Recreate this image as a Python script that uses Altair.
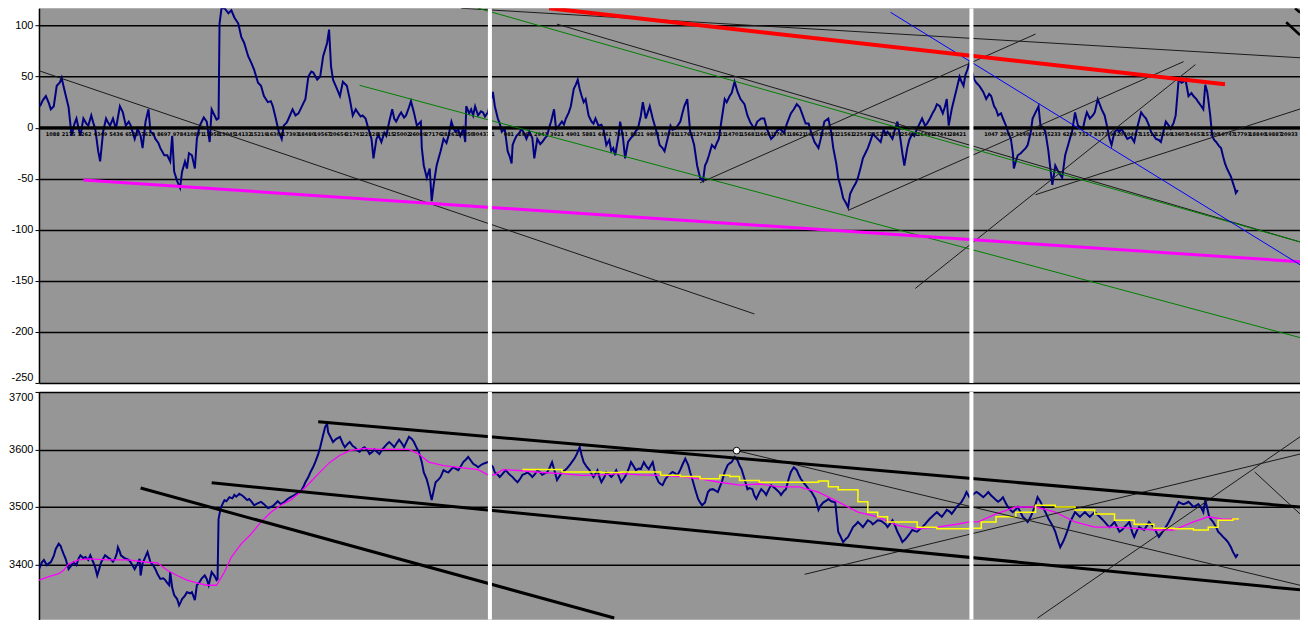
import altair as alt
import pandas as pd
import numpy as np

# ---------------- data ----------------
# x is the bar index (screen-time axis, 30 .. 1308), y is the value
TOP_SERIES = [
    (31,21),(34,27),(37,31),(40,24),(42,18),(45,21),(48,41),(51,44),(53,49),(55,40),(58,28),(60,20),(62,2),(63,-8),(66,4),(68,9),(70,0),(72,-8),(75,9),(78,4),(80,2),(83,12),(85,5),(87,-1),(90,-23),(92,-33),(95,-4),(98,9),(100,5),(102,2),(105,9),(108,-1),(110,10),(112,21),(115,15),(118,2),(121,6),(123,2),(127,-11),(130,-1),(133,-8),(135,-20),(138,6),(141,18),(143,-4),(146,-6),(148,-11),(151,-15),(153,-20),(157,-27),(160,-27),(163,-33),(165,-8),(167,-43),(170,-52),(173,-59),(175,-43),(178,-33),(180,-40),(182,-25),(185,-27),(188,-40),(190,-11),(193,2),(197,10),(200,6),(203,-14),(205,18),(208,12),(210,8),(212,9),(213,102),(215,122),(218,118),(222,112),(225,115),(228,108),(232,102),(235,89),(238,83),(242,70),(245,64),(248,57),(252,44),(255,41),(258,31),(262,25),(265,26),(267,21),(270,9),(273,-4),(276,-11),(278,2),(281,5),(283,9),(287,18),(290,12),(293,14),(295,18),(298,24),(300,28),(303,50),(306,55),(308,54),(312,47),(315,50),(318,70),(322,83),(324,96),(326,60),(328,47),(332,38),(335,31),(338,45),(342,41),(345,28),(348,12),(351,18),(353,15),(356,11),(358,12),(361,9),(363,2),(367,-11),(369,-30),(372,-11),(374,-7),(377,-14),(380,-5),(382,-8),(385,6),(388,18),(390,9),(392,6),(395,12),(397,15),(400,10),(402,12),(405,20),(407,26),(410,15),(413,2),(417,6),(418,-20),(420,-37),(423,-49),(426,-40),(428,-72),(430,-56),(433,-37),(435,-30),(437,-23),(440,-11),(443,-15),(445,-8),(448,6),(450,0),(452,-4),(455,-2),(457,-8),(460,-1),(462,-14),(463,21),(466,14),(468,18),(470,12),(472,21),(475,12),(478,16),(480,15),(482,11),(485,15),
    (490,35),(492,21),(495,9),(497,4),(499,-4),(502,-1),(505,-23),(507,-28),(509,-35),(510,-17),(512,-12),(514,-8),(517,-5),(519,-1),(522,-6),(524,-11),(527,-4),(530,-10),(532,-30),(535,-11),(538,-16),(540,-14),(543,-10),(545,-8),(547,0),(549,6),(552,18),(554,-1),(557,2),(560,6),(562,3),(564,9),(567,15),(569,21),(572,38),(574,42),(576,47),(578,38),(580,31),(582,25),(584,28),(587,12),(590,6),(592,4),(594,9),(597,2),(600,3),(602,-1),(605,-17),(608,-12),(610,-23),(612,-20),(614,-27),(617,-10),(619,6),(622,-11),(624,-30),(627,-14),(630,-10),(632,-8),(635,-3),(637,-1),(640,12),(642,25),(645,9),(647,15),(649,21),(652,9),(655,-1),(657,-8),(659,-17),(662,-20),(664,-23),(667,-11),(670,2),(672,-2),(675,-1),(678,3),(680,6),(682,14),(684,21),(687,28),(690,-4),(692,-10),(694,-17),(697,-37),(700,-49),(703,-52),(705,-37),(707,-33),(709,-27),(712,-17),(715,-20),(717,-15),(719,-11),(722,9),(725,28),(727,25),(730,31),(732,34),(735,45),(738,35),(741,28),(745,23),(748,12),(751,5),(755,-1),(758,6),(762,9),(765,9),(768,-2),(772,-11),(775,-8),(778,-3),(781,-1),(785,-5),(788,4),(792,14),(795,18),(798,23),(801,20),(804,12),(807,4),(810,4),(813,-6),(816,-14),(820,-20),(823,-8),(826,6),(830,9),(833,-5),(835,-20),(838,-35),(840,-49),(843,-60),(845,-69),(848,-74),(850,-78),(852,-65),(855,-59),(858,-54),(860,-49),(863,-38),(865,-30),(868,-24),(870,-20),(873,-12),(875,-6),(878,-9),(880,-11),(883,-14),(886,-2),(888,-6),(890,-4),(893,-8),(895,-11),(898,0),(900,6),(903,-11),(905,-25),(907,-37),(910,-20),(912,-12),(915,-6),(917,-8),(920,-1),(922,3),(925,9),(928,2),(930,4),(933,9),(936,15),(938,18),(940,23),(943,21),(946,14),(948,20),(950,28),(952,2),(955,18),(958,30),(960,38),(963,50),(965,45),(967,41),(969,52),(971,57),(973,64),
    (978,47),(980,44),(983,41),(985,38),(987,35),(990,28),(993,33),(995,31),(998,21),(1000,18),(1002,12),(1005,14),(1007,9),(1010,2),(1012,-4),(1015,-11),(1017,-25),(1018,-40),(1020,-33),(1022,-27),(1025,-25),(1027,-23),(1030,-20),(1032,-17),(1035,-5),(1037,9),(1040,15),(1043,21),(1045,2),(1048,0),(1050,-4),(1053,-23),(1055,-40),(1057,-56),(1060,-37),(1063,-43),(1065,-46),(1067,-49),(1070,-27),(1073,-17),(1075,-10),(1077,-4),(1080,15),(1083,2),(1086,0),(1088,-1),(1090,8),(1092,15),(1095,9),(1098,12),(1100,15),(1103,28),(1107,18),(1110,12),(1113,-1),(1115,-11),(1117,-17),(1120,-4),(1123,-2),(1125,-4),(1127,-1),(1130,-6),(1133,-11),(1137,-9),(1140,-14),(1143,0),(1147,15),(1150,11),(1152,9),(1155,2),(1157,-4),(1160,-8),(1162,-11),(1165,-12),(1167,-14),(1170,-2),(1172,6),(1175,2),(1177,-1),(1180,5),(1182,12),(1184,35),(1185,47),(1188,44),(1190,45),(1192,47),(1195,31),(1198,34),(1200,31),(1203,28),(1205,25),(1208,21),(1210,18),(1212,42),(1214,35),(1215,28),(1217,12),(1219,-8),(1221,-12),(1223,-14),(1226,-18),(1228,-20),(1230,-28),(1232,-35),(1234,-40),(1236,-44),(1238,-48),(1240,-54),(1242,-60),(1243,-64),(1245,-61),
]

BOTTOM_SERIES = [
    (30,3392),(33,3404),(35,3408),(38,3399),(40,3402),(42,3404),(45,3415),(47,3427),(50,3436),(52,3432),(53,3427),(55,3418),(57,3410),(60,3392),(63,3399),(65,3404),(68,3399),(70,3410),(72,3416),(75,3411),(77,3413),(80,3408),(82,3416),(85,3404),(87,3395),(89,3381),(91,3392),(93,3404),(95,3410),(97,3416),(100,3412),(102,3410),(105,3405),(107,3410),(109,3420),(110,3430),(112,3422),(113,3416),(116,3412),(118,3410),(121,3408),(123,3404),(125,3398),(127,3392),(130,3402),(132,3410),(133,3381),(135,3402),(137,3410),(140,3422),(143,3404),(146,3398),(148,3392),(150,3384),(153,3375),(156,3376),(158,3373),(160,3368),(162,3364),(163,3387),(165,3360),(167,3347),(170,3340),(172,3329),(174,3336),(175,3340),(178,3346),(180,3352),(183,3350),(185,3352),(188,3338),(190,3364),(193,3370),(195,3376),(198,3381),(200,3375),(202,3364),(205,3387),(208,3380),(210,3373),(211,3375),(212,3479),(214,3497),(216,3505),(218,3512),(220,3510),(223,3517),(226,3515),(228,3521),(230,3518),(233,3523),(236,3520),(238,3517),(241,3512),(243,3514),(246,3508),(248,3503),(251,3506),(255,3509),(258,3505),(262,3498),(265,3500),(268,3503),(272,3510),(275,3505),(278,3508),(282,3514),(285,3517),(288,3520),(292,3524),(295,3526),(298,3535),(300,3543),(303,3552),(305,3560),(308,3570),(310,3578),(313,3592),(315,3604),(318,3625),(320,3639),(322,3645),(323,3630),(326,3620),(328,3613),(331,3618),(335,3622),(338,3610),(340,3604),(343,3610),(345,3613),(348,3606),(350,3604),(353,3598),(355,3596),(358,3602),(360,3604),(363,3598),(365,3592),(368,3596),(370,3600),(373,3595),(375,3592),(378,3600),(380,3604),(383,3610),(385,3613),(388,3608),(390,3604),(393,3612),(395,3617),(398,3610),(400,3604),(403,3615),(405,3622),(408,3618),(410,3613),(413,3602),(415,3596),(418,3578),(420,3560),(423,3548),(425,3535),(428,3512),(430,3528),(432,3543),(435,3548),(437,3552),(440,3564),(443,3561),(445,3560),(448,3566),(450,3569),(453,3566),(455,3564),(458,3572),(460,3578),(463,3583),(465,3587),(468,3580),(470,3575),(473,3572),(475,3569),(478,3573),(480,3575),(483,3577),(485,3578),
    (490,3570),(492,3560),(495,3556),(497,3552),(500,3558),(503,3564),(506,3558),(510,3552),(512,3548),(515,3543),(518,3550),(520,3556),(523,3558),(525,3560),(528,3556),(530,3552),(533,3558),(535,3564),(538,3560),(540,3556),(543,3559),(545,3560),(548,3570),(550,3578),(553,3560),(555,3547),(558,3555),(560,3560),(563,3564),(565,3567),(568,3573),(570,3578),(573,3585),(575,3592),(578,3604),(580,3590),(582,3578),(585,3570),(588,3564),(590,3558),(592,3552),(594,3558),(596,3564),(598,3552),(600,3543),(603,3552),(605,3560),(608,3556),(610,3552),(613,3558),(615,3564),(618,3552),(620,3543),(623,3550),(625,3556),(628,3568),(630,3578),(633,3570),(635,3564),(638,3567),(640,3566),(643,3578),(645,3572),(648,3566),(650,3572),(652,3578),(655,3555),(658,3543),(660,3540),(662,3538),(665,3549),(668,3555),(670,3558),(672,3561),(675,3558),(677,3555),(680,3565),(682,3573),(685,3584),(688,3573),(690,3560),(692,3549),(695,3531),(698,3514),(700,3508),(702,3503),(705,3508),(708,3526),(710,3530),(713,3531),(716,3528),(718,3526),(720,3535),(722,3543),(725,3561),(728,3573),(730,3576),(732,3578),(735,3587),(738,3581),(740,3572),(742,3566),(745,3549),(748,3531),(750,3533),(753,3531),(755,3520),(757,3514),(760,3525),(762,3531),(765,3526),(767,3521),(770,3532),(772,3538),(775,3534),(777,3531),(780,3526),(782,3521),(785,3528),(787,3531),(790,3550),(792,3561),(795,3569),(798,3564),(800,3556),(802,3549),(805,3542),(807,3538),(810,3531),(813,3526),(815,3520),(817,3514),(820,3495),(822,3502),(825,3508),(828,3511),(830,3514),(833,3510),(837,3508),(840,3457),(842,3450),(845,3439),(848,3445),(850,3448),(853,3458),(855,3465),(858,3470),(860,3474),(863,3469),(865,3465),(868,3472),(870,3477),(873,3474),(875,3470),(878,3474),(880,3477),(883,3476),(885,3474),(888,3470),(890,3465),(893,3472),(895,3477),(898,3466),(900,3457),(903,3447),(905,3439),(908,3444),(910,3448),(913,3455),(915,3460),(918,3458),(920,3457),(923,3462),(925,3465),(928,3470),(930,3474),(933,3480),(935,3483),(938,3488),(940,3491),(943,3486),(945,3483),(948,3490),(950,3495),(953,3492),(955,3488),(958,3495),(960,3500),(963,3505),(965,3509),(968,3518),(970,3526),(972,3520),(973,3517),
    (980,3526),(982,3524),(985,3520),(987,3517),(990,3522),(992,3526),(995,3520),(997,3517),(1000,3512),(1002,3509),(1005,3513),(1007,3517),(1010,3506),(1012,3500),(1015,3494),(1017,3491),(1020,3496),(1022,3500),(1025,3490),(1027,3483),(1030,3478),(1032,3474),(1035,3483),(1037,3491),(1040,3505),(1042,3517),(1045,3509),(1048,3498),(1050,3491),(1053,3480),(1055,3474),(1058,3465),(1060,3457),(1063,3440),(1065,3430),(1068,3440),(1070,3448),(1073,3462),(1075,3474),(1078,3484),(1080,3491),(1083,3486),(1085,3483),(1088,3488),(1090,3491),(1093,3486),(1095,3483),(1098,3488),(1100,3491),(1103,3486),(1105,3483),(1108,3478),(1110,3474),(1113,3468),(1115,3465),(1118,3470),(1120,3474),(1123,3464),(1125,3457),(1128,3461),(1130,3465),(1133,3470),(1135,3474),(1138,3456),(1140,3448),(1143,3460),(1145,3465),(1148,3462),(1150,3460),(1153,3468),(1155,3474),(1158,3468),(1160,3465),(1163,3454),(1165,3448),(1168,3455),(1170,3460),(1173,3468),(1175,3474),(1178,3484),(1180,3491),(1183,3502),(1185,3509),(1188,3506),(1190,3505),(1193,3507),(1195,3509),(1198,3504),(1200,3500),(1203,3503),(1205,3505),(1208,3498),(1210,3491),(1212,3512),(1214,3498),(1216,3483),(1218,3478),(1220,3474),(1223,3465),(1225,3457),(1228,3452),(1230,3448),(1233,3443),(1235,3439),(1238,3430),(1240,3422),(1242,3416),(1243,3413),(1245,3418),
]

BOTTOM_MA_MAGENTA = [
    (30,3373),(40,3379),(50,3384),(55,3390),(60,3401),(70,3408),(80,3410),(100,3408),(120,3408),(140,3404),(150,3403),(160,3390),(170,3381),(180,3373),(190,3368),(200,3364),(210,3364),(218,3387),(225,3413),(235,3436),(245,3453),(255,3474),(265,3491),(275,3503),(285,3512),(295,3526),(305,3543),(315,3561),(325,3578),(335,3590),(345,3598),(360,3602),(375,3600),(390,3600),(405,3600),(415,3592),(425,3578),(440,3572),(460,3568),(475,3565),(485,3556),
    (492,3556),(500,3565),(520,3563),(540,3560),(560,3558),(580,3555),(600,3556),(620,3558),(640,3556),(660,3555),(680,3553),(700,3549),(720,3543),(740,3538),(760,3540),(780,3535),(800,3535),(820,3526),(840,3509),(860,3491),(880,3483),(900,3468),(920,3462),(940,3465),(960,3470),(973,3474),
    (982,3474),(1000,3488),(1020,3500),(1040,3500),(1060,3491),(1080,3474),(1100,3465),(1120,3465),(1140,3463),(1160,3460),(1180,3460),(1200,3474),(1215,3483),(1230,3479),(1245,3479),
]

BOTTOM_MA_YELLOW = [
    (520,3565),(540,3565),(560,3561),(580,3561),(600,3560),(620,3561),(640,3561),(660,3555),(680,3553),(700,3549),(720,3555),(730,3553),(740,3546),(760,3543),(780,3543),(800,3543),(820,3545),(830,3535),(840,3530),(860,3509),(870,3491),(880,3483),(890,3474),(900,3474),(920,3465),(940,3462),(960,3462),(973,3463),
    (985,3474),(1000,3483),(1020,3491),(1040,3503),(1060,3500),(1080,3495),(1100,3488),(1120,3477),(1140,3470),(1160,3463),(1180,3462),(1200,3460),(1215,3465),(1225,3477),(1240,3479),(1245,3481),
]

# trend lines: (x1, y1, x2, y2)  (upper ends taken where they leave the visible frame)
TOP_THIN_BLACK = [(30,55.8,755,-182.4),(458,117,1308,68.5),(555,101.4,1308,-111.9),
                  (700,-54,1040,91.7),(850,-81,1190,64.7),(918,-157.5,1202,61.8),(1040,-65.6,1308,18.3)]
TOP_THICK_BLACK = [(1303,117,1308,112.9),(1294,103.3,1308,90.8)]
TOP_RED = [(547,117,1232,42.5)]
TOP_GREEN = [(475,117,1308,-111.9),(355,41.5,1308,-205.6)]
TOP_MAGENTA = [(75,-51.2,1308,-131.3)]
TOP_BLUE = [(893,113,1308,-134.2)]

BOT_THICK_BLACK = [(313,3648,1308,3500),(205,3542,1308,3356),(133,3533,613,3307)]
BOT_THIN_BLACK = [(737,3598,1308,3364),(806,3383,1308,3592),(1042,3307,1308,3622),(1262,3561,1308,3488)]
BOT_DOT = [(737,3598)]

WINDOW_EDGES = [487, 975]

# small bar-number labels printed along the zero line of the upper panel
LABELS_W1 = ["1088","2175","3262","4349","5436","6523","7610","8697","9784","10871","11958","13045","14132","15219",
             "16306","17393","18480","19567","20654","21741","22828","23915","25002","26089","27176","28263","29350","30437"]
LABELS_W2 = ["1","981","1961","2941","3921","4901","5881","6861","7841","8821","9801","10781","11761","12741","13721",
             "14701","15681","16661","17641","18621","19601","20581","21561","22541","23521","24501","25481","26461","27441","28421"]
LABELS_W3 = ["1047","2093","3140","4187","5233","6280","7327","8373","9420","10467","11513","12560","13607","14653",
             "15700","16747","17793","18840","19887","20933"]

TOP_TICKS = [100, 50, 0, -50, -100, -150, -200, -250]
BOT_TICKS = [3700, 3600, 3500, 3400]

# ---------------- chart ----------------
PLOT_W = 1262
xs = alt.Scale(domain=[30, 1308], nice=False, zero=False)
xenc = alt.X("x:Q", scale=xs, axis=None)


def yenc(domain, ticks, clamp=False):
    return alt.Y("y:Q", scale=alt.Scale(domain=domain, nice=False, zero=False, clamp=clamp),
                 axis=alt.Axis(values=ticks, title=None, grid=True, labelFlush=True,
                               labelExpr="'' + datum.value"))


def series_df(pts):
    return pd.DataFrame(pts, columns=["x", "y"])


def seg_df(segs):
    return pd.DataFrame(segs, columns=["x", "y", "x2", "y2"])


def seg_layer(segs, color, width, ye):
    return alt.Chart(seg_df(segs)).mark_rule(color=color, strokeWidth=width, clip=True).encode(
        x=xenc, y=ye, x2="x2:Q", y2="y2:Q")


def separators(ye, domain):
    df = pd.DataFrame({"x": WINDOW_EDGES, "y": [domain[0]] * 2, "y2": [domain[1]] * 2})
    return alt.Chart(df).mark_rule(color="white", strokeWidth=4, clip=True).encode(x=xenc, y=ye, y2="y2:Q")


# upper panel
TOP_DOM = [-250, 117]
yt = yenc(TOP_DOM, TOP_TICKS, clamp=True)
lab_x = list(np.linspace(44, 478, len(LABELS_W1))) + list(np.linspace(490, 961, len(LABELS_W2))) + \
    list(np.linspace(995, 1297, len(LABELS_W3)))
lab_df = pd.DataFrame({"x": lab_x, "y": [-6] * len(lab_x), "t": LABELS_W1 + LABELS_W2 + LABELS_W3})

top = alt.layer(
    alt.Chart(series_df(TOP_SERIES)).mark_line(color="#000080", strokeWidth=2, clip=True).encode(x=xenc, y=yt),
    alt.Chart(pd.DataFrame({"y": [0]})).mark_rule(color="black", strokeWidth=3, clip=True).encode(y=yt),
    alt.Chart(lab_df).mark_text(fontSize=5, font="DejaVu Sans", fontWeight="bold", color="black",
                                align="center", baseline="middle").encode(x=xenc, y=yt, text="t:N"),
    seg_layer(TOP_THIN_BLACK, "#1a1a1a", 1, yt),
    seg_layer(TOP_THICK_BLACK, "black", 2.5, yt),
    seg_layer(TOP_GREEN, "#008000", 1, yt),
    seg_layer(TOP_MAGENTA, "#ff00ff", 3, yt),
    seg_layer(TOP_BLUE, "#0000ff", 1, yt),
    seg_layer(TOP_RED, "#ff0000", 4, yt),
    separators(yt, TOP_DOM),
).properties(width=PLOT_W, height=375)

# lower panel
BOT_DOM = [3304, 3700]
yb = yenc(BOT_DOM, BOT_TICKS)
bottom = alt.layer(
    alt.Chart(series_df(BOTTOM_SERIES)).mark_line(color="#000080", strokeWidth=2, clip=True).encode(x=xenc, y=yb),
    alt.Chart(series_df(BOTTOM_MA_MAGENTA)).mark_line(color="#ff00ff", strokeWidth=1.3, clip=True).encode(x=xenc, y=yb),
    alt.Chart(series_df(BOTTOM_MA_YELLOW)).mark_line(color="#ffff00", strokeWidth=1.5, interpolate="step-after",
                                                      clip=True).encode(x=xenc, y=yb),
    seg_layer(BOT_THIN_BLACK, "#1a1a1a", 1, yb),
    seg_layer(BOT_THICK_BLACK, "black", 3, yb),
    alt.Chart(series_df(BOT_DOT)).mark_point(shape="circle", filled=True, fill="white", stroke="black",
                                             strokeWidth=1, size=45, opacity=1, clip=True).encode(x=xenc, y=yb),
    separators(yb, BOT_DOM),
).properties(width=PLOT_W, height=228)

chart = alt.vconcat(top, bottom, spacing=9, bounds="flush").properties(
    padding=0, background="white"
).configure_view(
    fill="#969696", stroke=None
).configure_axis(
    labelFont="Liberation Sans", labelFontSize=11, labelColor="black",
    domainColor="black", domainWidth=1.5, tickColor="black", tickSize=4, labelPadding=2,
    gridColor="black", gridWidth=1.5,
)

chart.save("out.html", embed_options={"renderer": "svg", "actions": False})
